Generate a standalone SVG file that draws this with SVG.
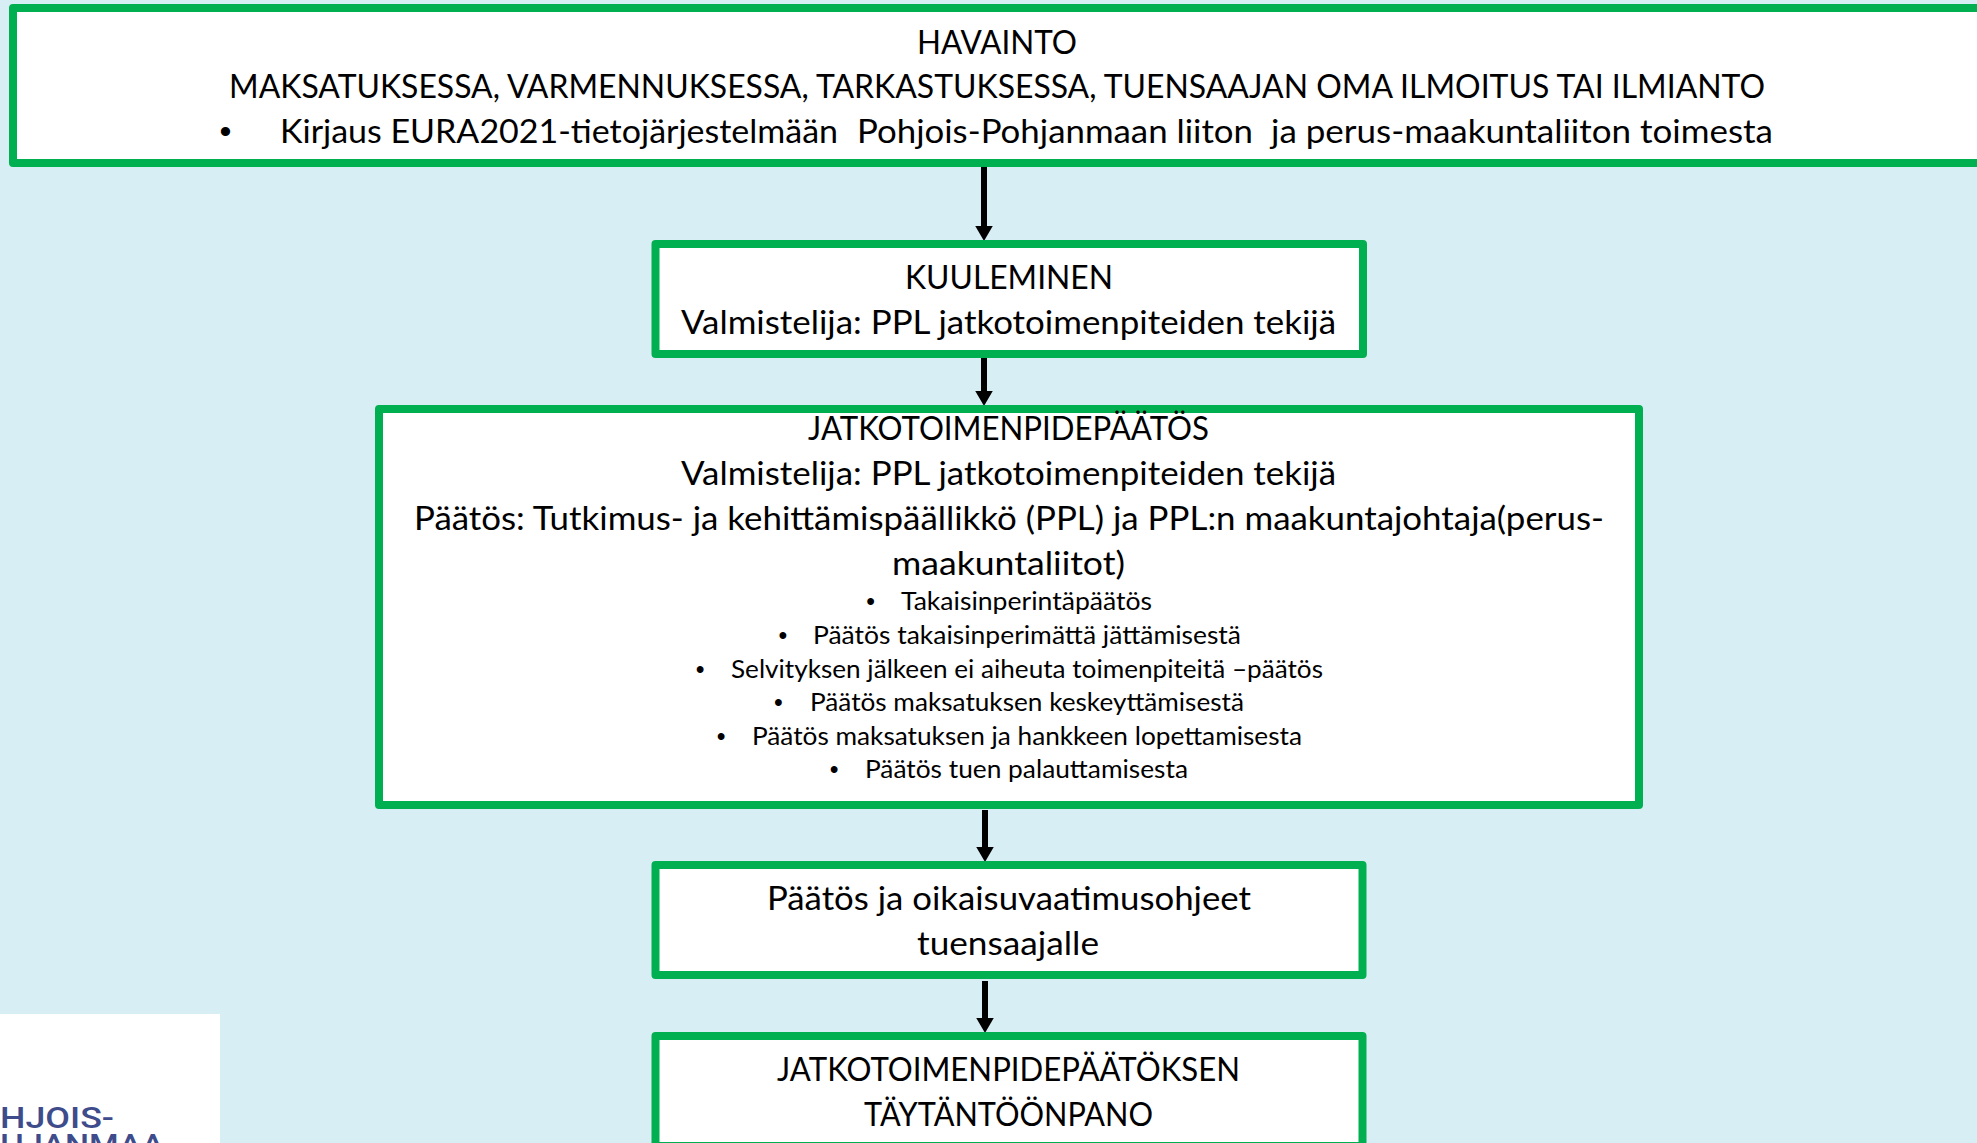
<svg xmlns="http://www.w3.org/2000/svg" width="1977" height="1143" viewBox="0 0 1977 1143">
<defs>
<marker id="ah" markerUnits="userSpaceOnUse" markerWidth="15" markerHeight="17.5" refX="0" refY="8.75" viewBox="0 0 15 17.5" orient="auto"><path d="M0 0L15 8.75L0 17.5Z" fill="#000"/></marker>
</defs>
<style>
.box{fill:#fff;stroke:#00B050;stroke-width:8;stroke-linejoin:round}
.t{font-family:"Lato","Liberation Sans",sans-serif;font-size:32px;fill:#000}
.s{font-size:25px}
.b{font-family:"Liberation Sans",Arial,sans-serif;fill:#000;font-size:25px}
.l{font-family:"Roboto","Noto Sans",sans-serif;font-size:29.5px;font-weight:500;fill:#3F4C8C}
.c{fill:none;stroke:#000;stroke-width:6}
</style>
<rect width="1977" height="1143" fill="#D7EEF5"/>
<g id="logo"><rect x="0" y="1014" width="220" height="129" fill="#fff"/>
<text class="l" x="0" y="1128" textLength="114" lengthAdjust="spacingAndGlyphs">HJOIS-</text>
<text class="l" x="0" y="1155" textLength="164" lengthAdjust="spacingAndGlyphs">HJANMAA</text></g>
<g id="connectors">
<path class="c" d="M984 167V226" marker-end="url(#ah)"/>
<path class="c" d="M984 358V391" marker-end="url(#ah)"/>
<path class="c" d="M985 810V847" marker-end="url(#ah)"/>
<path class="c" d="M985 981V1018" marker-end="url(#ah)"/>
</g>
<g id="havainto"><rect class="box" x="13" y="8" width="2000" height="155"/>
<text class="t" x="917" y="54" textLength="160" lengthAdjust="spacingAndGlyphs">HAVAINTO</text>
<text class="t" x="229" y="98" textLength="1536" lengthAdjust="spacingAndGlyphs">MAKSATUKSESSA, VARMENNUKSESSA, TARKASTUKSESSA, TUENSAAJAN OMA ILMOITUS TAI ILMIANTO</text>
<text class="b" style="font-size:34px" x="219.5" y="143">•</text>
<text class="t" y="143"><tspan x="280" textLength="558" lengthAdjust="spacingAndGlyphs">Kirjaus EURA2021-tietojärjestelmään</tspan> <tspan x="857" textLength="396" lengthAdjust="spacingAndGlyphs">Pohjois-Pohjanmaan liiton</tspan> <tspan x="1271" textLength="502" lengthAdjust="spacingAndGlyphs">ja perus-maakuntaliiton toimesta</tspan></text></g>
<g id="kuuleminen"><rect class="box" x="655.5" y="244" width="707.5" height="110"/>
<text class="t" x="905" y="289" textLength="208" lengthAdjust="spacingAndGlyphs">KUULEMINEN</text>
<text class="t" x="681" y="334" textLength="655" lengthAdjust="spacingAndGlyphs">Valmistelija: PPL jatkotoimenpiteiden tekijä</text></g>
<g id="jatkotoimenpidepaatos"><rect class="box" x="379" y="409" width="1260" height="396"/>
<text class="t" x="808" y="440" textLength="401" lengthAdjust="spacingAndGlyphs">JATKOTOIMENPIDEPÄÄTÖS</text>
<text class="t" x="681" y="485" textLength="655" lengthAdjust="spacingAndGlyphs">Valmistelija: PPL jatkotoimenpiteiden tekijä</text>
<text class="t" x="414" y="530" textLength="1190" lengthAdjust="spacingAndGlyphs">Päätös: Tutkimus- ja kehittämispäällikkö (PPL) ja PPL:n maakuntajohtaja(perus-</text>
<text class="t" x="892" y="575" textLength="233" lengthAdjust="spacingAndGlyphs">maakuntaliitot)</text>
<text class="b" x="866.3" y="610">•</text><text class="t s" x="901" y="610" textLength="251" lengthAdjust="spacingAndGlyphs">Takaisinperintäpäätös</text>
<text class="b" x="778.4" y="644">•</text><text class="t s" x="813" y="644" textLength="428" lengthAdjust="spacingAndGlyphs">Päätös takaisinperimättä jättämisestä</text>
<text class="b" x="695.8" y="678">•</text><text class="t s" x="731" y="678" textLength="592" lengthAdjust="spacingAndGlyphs">Selvityksen jälkeen ei aiheuta toimenpiteitä –päätös</text>
<text class="b" x="773.9" y="711">•</text><text class="t s" x="810" y="711" textLength="434" lengthAdjust="spacingAndGlyphs">Päätös maksatuksen keskeyttämisestä</text>
<text class="b" x="716.8" y="745">•</text><text class="t s" x="752" y="745" textLength="550" lengthAdjust="spacingAndGlyphs">Päätös maksatuksen ja hankkeen lopettamisesta</text>
<text class="b" x="829.7" y="778">•</text><text class="t s" x="865" y="778" textLength="323" lengthAdjust="spacingAndGlyphs">Päätös tuen palauttamisesta</text></g>
<g id="paatos-ja-ohjeet"><rect class="box" x="655.5" y="865" width="707" height="110"/>
<text class="t" x="767" y="910" textLength="484" lengthAdjust="spacingAndGlyphs">Päätös ja oikaisuvaatimusohjeet</text>
<text class="t" x="917" y="955" textLength="182" lengthAdjust="spacingAndGlyphs">tuensaajalle</text></g>
<g id="taytantoonpano"><rect class="box" x="655.5" y="1036" width="707" height="110"/>
<text class="t" x="777" y="1081" textLength="463" lengthAdjust="spacingAndGlyphs">JATKOTOIMENPIDEPÄÄTÖKSEN</text>
<text class="t" x="864" y="1126" textLength="289" lengthAdjust="spacingAndGlyphs">TÄYTÄNTÖÖNPANO</text></g>
</svg>
